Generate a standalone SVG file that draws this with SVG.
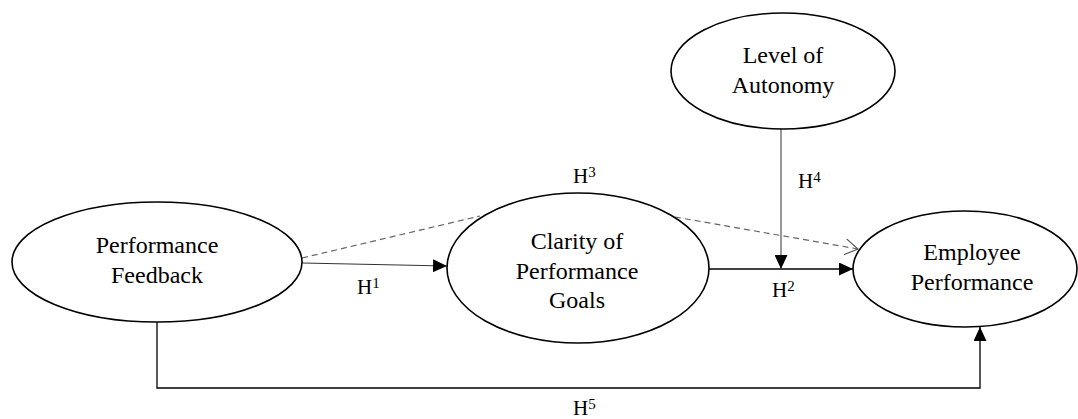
<svg xmlns="http://www.w3.org/2000/svg" width="1078" height="419" viewBox="0 0 1078 419">
<defs>
<style>
.node ellipse{fill:#fff;stroke:#000;stroke-width:1.6}
.node text{font-size:24px;fill:#000;text-anchor:middle}
.lbl{font-size:21px;fill:#000}
.sup{font-size:15px}
.solid{fill:none;stroke:#000;stroke-width:1.3}
.thin{fill:none;stroke:#333;stroke-width:1}
.dash{fill:none;stroke:#666;stroke-width:1.2;stroke-dasharray:6 4}
</style>
<marker id="arr" viewBox="0 0 14 13" refX="14" refY="6.5" markerWidth="14" markerHeight="13" markerUnits="userSpaceOnUse" orient="auto">
<path d="M0,0 L14,6.5 L0,13 Z" fill="#000"/>
</marker>
<marker id="open" viewBox="0 0 14 18" refX="13" refY="9" markerWidth="14" markerHeight="18" markerUnits="userSpaceOnUse" orient="auto">
<path d="M0,1 L13,9 L0,17" fill="none" stroke="#555" stroke-width="1.2"/>
</marker>
</defs>
<rect width="1078" height="419" fill="#fff"/>
<g id="connectors">
<path class="thin" d="M302,263 L447,266" marker-end="url(#arr)"/>
<path class="solid" d="M709,269 L853,269" marker-end="url(#arr)"/>
<path class="thin" d="M781,128 L781,269" marker-end="url(#arr)"/>
<path class="solid" d="M157,322 L157,388 L980,388 L980,327" marker-end="url(#arr)"/>
<path class="dash" d="M302,258 L480,216"/>
<path class="dash" d="M675,217 L858,249" marker-end="url(#open)"/>
</g>
<g id="labels" font-family="Liberation Serif, Tinos, DejaVu Serif, serif">
<text class="lbl" x="357" y="294">H<tspan class="sup" dy="-6">1</tspan></text>
<text class="lbl" x="772" y="297">H<tspan class="sup" dy="-6">2</tspan></text>
<text class="lbl" x="573" y="183">H<tspan class="sup" dy="-6">3</tspan></text>
<text class="lbl" x="798" y="188">H<tspan class="sup" dy="-6">4</tspan></text>
<text class="lbl" x="573" y="415">H<tspan class="sup" dy="-6">5</tspan></text>
</g>
<g id="performance-feedback" class="node" font-family="Liberation Serif, Tinos, DejaVu Serif, serif">
<ellipse cx="157" cy="262" rx="145" ry="60"/>
<text x="157" y="253">Performance</text>
<text x="157" y="283">Feedback</text>
</g>
<g id="clarity" class="node" font-family="Liberation Serif, Tinos, DejaVu Serif, serif">
<ellipse cx="578" cy="268" rx="131" ry="75"/>
<text x="577" y="249">Clarity of</text>
<text x="577" y="279">Performance</text>
<text x="577" y="308">Goals</text>
</g>
<g id="autonomy" class="node" font-family="Liberation Serif, Tinos, DejaVu Serif, serif">
<ellipse cx="783" cy="71" rx="112" ry="58"/>
<text x="783" y="63">Level of</text>
<text x="783" y="93">Autonomy</text>
</g>
<g id="employee-performance" class="node" font-family="Liberation Serif, Tinos, DejaVu Serif, serif">
<ellipse cx="965" cy="269" rx="112" ry="58"/>
<text x="972" y="260">Employee</text>
<text x="972" y="290">Performance</text>
</g>
</svg>
